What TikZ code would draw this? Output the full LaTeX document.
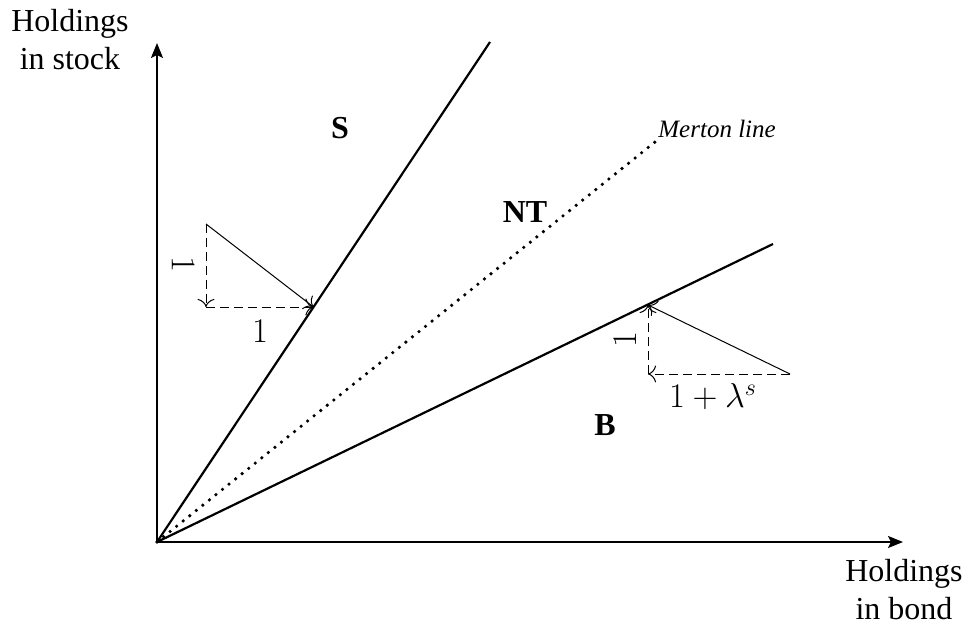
\documentclass[tikz,border=0pt]{standalone}
\usepackage{fontspec}
\setmainfont{Liberation Serif}
\usetikzlibrary{arrows.meta}
\begin{document}
\begin{tikzpicture}[x=0.5pt,y=-0.5pt,
  axis/.style={line width=1.1pt,-{Stealth[length=7.5pt,width=6pt,inset=1.5pt]}},
  bound/.style={line width=1.1pt},
  merton/.style={line width=1.8pt,line cap=round,dash pattern=on 0pt off 4.2pt},
  thinarrow/.style={line width=0.5pt,-{To[scale=1.5]}},
  dasharrow/.style={line width=0.5pt,-{To[scale=1.5]},dash pattern=on 4.5pt off 2.5pt},
  lbl/.style={font=\fontsize{16}{19}\selectfont,align=center,inner sep=0pt},
  region/.style={font=\fontsize{16}{20}\selectfont\bfseries,inner sep=0pt},
  mathlbl/.style={font=\fontsize{17}{20}\selectfont,inner sep=0pt},
  italbl/.style={font=\fontsize{12.5}{15}\selectfont\itshape,inner sep=0pt}]
\useasboundingbox (0,0) rectangle (967,625);
% key points
\coordinate (O) at (157,542);
\coordinate (xend) at (903,542);
\coordinate (yend) at (157,43);
\coordinate (Send) at (490,42);
\coordinate (Mend) at (655,142);
\coordinate (Bend) at (773,244);
% triangles
\coordinate (LT) at (206,224);
\coordinate (LC) at (206,307);
\coordinate (LP) at (313.5,307);
\coordinate (RR) at (790,374);
\coordinate (RC) at (648,374);
\coordinate (RP) at (648,305);
% axes
\draw[axis] (O) -- (xend);
\draw[axis] (O) -- (yend);
% boundaries
\draw[bound] (O) -- (Send);
\draw[bound] (O) -- (Bend);
\draw[merton] (O) -- (Mend);
% left triangle
\draw[thinarrow] (LT) -- (LP);
\draw[dasharrow] (LT) -- (LC);
\draw[dasharrow] (LC) -- (LP);
% right triangle
\draw[thinarrow] (RR) -- (RP);
\draw[dasharrow] (RR) -- (RC);
\draw[dasharrow] (RC) -- (RP);
% labels
\node[lbl] (ylab) at (70,40) {Holdings\\in stock};
\node[lbl] (xlab) at (904,590) {Holdings\\in bond};
\node[region] (S) at (340,128) {S};
\node[region] (NT) at (525,212) {NT};
\node[region] (B) at (605,425) {B};
\node[italbl,anchor=west] (ML) at (658,129) {Merton line};
\node[mathlbl,rotate=-90] (l1) at (183,264) {$1$};
\node[mathlbl] (l2) at (260,331) {$1$};
\node[mathlbl,rotate=90] (r1) at (625,340) {$1$};
\node[mathlbl] (r2) at (713,397) {$1+\lambda^s$};
\end{tikzpicture}
\end{document}
